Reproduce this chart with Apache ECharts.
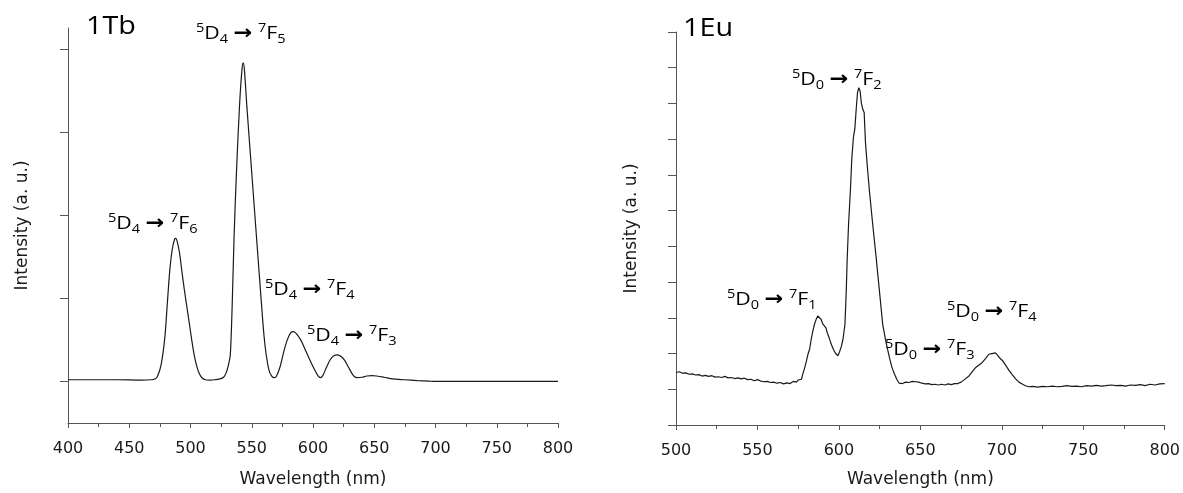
<!DOCTYPE html>
<html>
<head>
<meta charset="UTF-8">
<title>1Tb / 1Eu emission</title>
<script src="https://cdn.jsdelivr.net/npm/echarts@6/dist/echarts.min.js"></script>
<style>
  * { margin: 0; padding: 0; }
  html, body { background: #fff; }
  #app { width: 1183px; height: 493px; }
</style>
</head>
<body>
<div id="app"></div>
<script>
// 1Tb emission spectrum (wavelength nm / intensity, one y-tick = 1)
var tbWl = [400, 420, 440, 460, 468, 471, 473, 476, 479, 481, 483, 485, 487, 488, 489, 491, 493, 495, 497, 499,
  501, 503, 505, 507, 509, 512, 516, 520, 524, 527, 529, 531, 532.5, 534, 535.5, 537.5, 540, 542, 543, 544,
  546, 550, 554, 558, 560, 562, 564, 566, 568, 570, 573, 576, 579, 582, 584, 586, 590, 594, 598, 601,
  604, 606, 608, 611, 614, 617, 620, 623, 626, 629, 632, 634, 636, 640, 644, 648, 652, 658, 665, 675,
  685, 695, 700, 750, 800];
var tbInt = [0.02, 0.02, 0.02, 0.015, 0.02, 0.03, 0.06, 0.2, 0.52, 0.92, 1.32, 1.58, 1.71, 1.72, 1.69, 1.55, 1.32, 1.10, 0.90, 0.70,
  0.50, 0.32, 0.19, 0.10, 0.05, 0.02, 0.015, 0.02, 0.03, 0.05, 0.1, 0.2, 0.32, 0.9, 1.71, 2.51, 3.31, 3.75, 3.83, 3.75,
  3.31, 2.51, 1.71, 0.92, 0.55, 0.3, 0.14, 0.07, 0.045, 0.06, 0.17, 0.35, 0.5, 0.59, 0.60, 0.58, 0.5, 0.37, 0.24, 0.15,
  0.07, 0.045, 0.07, 0.17, 0.26, 0.31, 0.32, 0.30, 0.25, 0.17, 0.09, 0.055, 0.045, 0.05, 0.065, 0.07, 0.065, 0.05, 0.03, 0.02,
  0.01, 0.003, 0, 0, 0];

// 1Eu emission spectrum
var euWl = [500, 502, 504, 506, 508, 510, 512, 514, 516, 518, 520, 522, 524, 526, 528, 530, 532, 534, 536, 538,
  540, 542, 544, 546, 548, 550, 552, 554, 556, 558, 560, 562, 564, 566, 568, 570, 572, 574, 575, 576,
  577, 578, 579, 580, 581, 582, 583, 584, 585, 586, 587, 588, 589, 590, 591, 592, 593, 594, 595, 596,
  597, 598, 599.4, 600.4, 601.5, 602.5, 603.7, 604.5, 605.1, 605.9, 607, 607.9, 608.9, 609.8, 610.6, 611.4, 612.2, 613, 613.8, 614.7,
  615.5, 616.3, 617.5, 618.8, 620.8, 622.9, 624.9, 626.9, 629, 631, 632.5, 634.1, 635.5, 637, 639, 641, 643, 645, 647, 649,
  651, 653, 655, 657, 659, 661, 663, 665, 667, 669, 671, 673, 675, 677, 680, 682, 684, 686, 688, 690,
  692, 694, 696, 697.5, 699, 700.5, 702.5, 704.5, 706.5, 708.5, 710.5, 712.5, 714.5, 716.5, 719, 722, 725, 728, 731, 734,
  737, 740, 743, 746, 749, 752, 755, 758, 761, 764, 767, 770, 773, 776, 779, 782, 785, 788, 791, 794,
  797, 800];
var euInt = [1.47, 1.49, 1.45, 1.46, 1.42, 1.43, 1.40, 1.41, 1.37, 1.39, 1.36, 1.38, 1.34, 1.35, 1.33, 1.36, 1.32, 1.33, 1.30, 1.32,
  1.29, 1.31, 1.27, 1.28, 1.24, 1.27, 1.23, 1.21, 1.22, 1.19, 1.20, 1.17, 1.19, 1.15, 1.18, 1.16, 1.22, 1.20, 1.26, 1.24,
  1.28, 1.45, 1.60, 1.78, 1.98, 2.12, 2.40, 2.63, 2.82, 2.95, 3.05, 3.03, 2.96, 2.84, 2.80, 2.72, 2.56, 2.44, 2.30, 2.18,
  2.08, 2.00, 1.94, 2.05, 2.20, 2.40, 2.81, 3.74, 4.67, 5.59, 6.52, 7.44, 8.05, 8.30, 8.83, 9.30, 9.44, 9.35, 9.00, 8.83,
  8.75, 7.91, 7.20, 6.52, 5.59, 4.67, 3.74, 2.81, 2.30, 1.89, 1.62, 1.43, 1.28, 1.17, 1.16, 1.20, 1.19, 1.22, 1.21, 1.20,
  1.17, 1.15, 1.16, 1.13, 1.14, 1.12, 1.14, 1.12, 1.15, 1.13, 1.16, 1.16, 1.20, 1.27, 1.38, 1.50, 1.61, 1.68, 1.75, 1.86,
  1.98, 2.00, 2.02, 1.95, 1.86, 1.80, 1.66, 1.52, 1.40, 1.29, 1.20, 1.15, 1.10, 1.07, 1.08, 1.06, 1.08, 1.07, 1.09, 1.07,
  1.08, 1.10, 1.08, 1.09, 1.07, 1.10, 1.09, 1.11, 1.09, 1.10, 1.12, 1.10, 1.11, 1.09, 1.12, 1.11, 1.13, 1.10, 1.14, 1.12,
  1.15, 1.16];

var tbTicks = [0, 1, 2, 3, 4];

// transition labels: [upper level sub, lower level sub]
var tbLabels = [['4', '5'], ['4', '6'], ['4', '4'], ['4', '3']];
var euLabels = [['0', '2'], ['0', '1'], ['0', '3'], ['0', '4']];

function pairs(xs, ys) {
  return xs.map(function (x, i) { return [x, ys[i]]; });
}

var axisColor = '#555';
var labelFont = 'DejaVu Sans';

function xAxisOf(idx, min, max, gap) {
  return {
    type: 'value', gridIndex: idx, min: min, max: max, interval: 50,
    name: 'Wavelength (nm)', nameLocation: 'middle', nameGap: gap,
    nameTextStyle: { fontFamily: labelFont, fontSize: 17, color: '#1a1a1a' },
    axisLine: { onZero: false, lineStyle: { color: axisColor, width: 1 } },
    axisTick: { show: true, length: 5, lineStyle: { color: axisColor } },
    minorTick: { show: true, splitNumber: 2, length: 4, lineStyle: { color: axisColor } },
    axisLabel: { fontFamily: labelFont, fontSize: 16, color: '#1a1a1a', margin: 18 },
    splitLine: { show: false }
  };
}

var richStyles = {
  b: { fontFamily: 'Open Sans', fontSize: 19, lineHeight: 24, verticalAlign: 'middle', fill: '#000' },
  sup: { fontFamily: 'Open Sans', fontSize: 13, lineHeight: 14, verticalAlign: 'top', fill: '#000' },
  sub: { fontFamily: 'Open Sans', fontSize: 13, lineHeight: 16, verticalAlign: 'bottom', fill: '#000' },
  a: { fontFamily: 'DejaVu Sans', fontWeight: 'bold', fontSize: 20, lineHeight: 24, verticalAlign: 'middle', fill: '#000' }
};

function transText(lbl) {
  return '{sup|5}{b|D}{sub|' + lbl[0] + '}{b| }{a|→}{b| }{sup|7}{b|F}{sub|' + lbl[1] + '}';
}

function note(text, x, y) {
  return {
    type: 'text', x: x, y: y, scaleX: 1.12,
    style: {
      text: text, rich: richStyles, fill: '#000',
      font: '19px "Open Sans"',
      align: 'left', verticalAlign: 'middle',
      textAlign: 'left', textVerticalAlign: 'middle'
    }
  };
}

function heading(text, x, y) {
  return {
    type: 'text', x: x, y: y, scaleX: 1.15,
    style: {
      text: text, fill: '#000', font: '25px "Open Sans"',
      align: 'left', verticalAlign: 'middle',
      textAlign: 'left', textVerticalAlign: 'middle'
    }
  };
}

var chart = echarts.init(document.getElementById('app'), null, { renderer: 'canvas' });

var option = {
  animation: false,
  backgroundColor: '#fff',
  grid: [
    { left: 68, top: 28, width: 490, height: 395 },
    { left: 676, top: 32, width: 490, height: 396 }
  ],
  xAxis: [xAxisOf(0, 400, 800, 48), xAxisOf(1, 500, 800, 46)],
  yAxis: [
    {
      type: 'value', gridIndex: 0, min: -0.5, max: 4.25, interval: 0.25,
      name: 'Intensity (a. u.)', nameLocation: 'middle', nameGap: 37,
      nameTextStyle: { fontFamily: labelFont, fontSize: 17, color: '#1a1a1a' },
      axisLine: { show: true, onZero: false, lineStyle: { color: axisColor, width: 1 } },
      axisTick: { show: true, length: 8, customValues: tbTicks, lineStyle: { color: axisColor } },
      axisLabel: { show: false },
      splitLine: { show: false }
    },
    {
      type: 'value', gridIndex: 1, min: 0, max: 11, interval: 1,
      name: 'Intensity (a. u.)', nameLocation: 'middle', nameGap: 36,
      nameTextStyle: { fontFamily: labelFont, fontSize: 17, color: '#1a1a1a' },
      axisLine: { show: true, onZero: false, lineStyle: { color: axisColor, width: 1 } },
      axisTick: { show: true, length: 8, lineStyle: { color: axisColor } },
      axisLabel: { show: false },
      splitLine: { show: false }
    }
  ],
  series: [
    {
      type: 'line', xAxisIndex: 0, yAxisIndex: 0, data: pairs(tbWl, tbInt),
      showSymbol: false, smooth: 0.3, lineStyle: { color: '#1a1a1a', width: 1.2 }
    },
    {
      type: 'line', xAxisIndex: 1, yAxisIndex: 1, data: pairs(euWl, euInt),
      showSymbol: false, lineStyle: { color: '#1a1a1a', width: 1.2 }
    }
  ],
  graphic: [
    heading('1Tb', 86, 27),
    heading('1Eu', 683, 29),
    note(transText(tbLabels[0]), 196, 34),
    note(transText(tbLabels[1]), 108, 224),
    note(transText(tbLabels[2]), 265, 290),
    note(transText(tbLabels[3]), 307, 336),
    note(transText(euLabels[0]), 792, 80),
    note(transText(euLabels[1]), 727, 300),
    note(transText(euLabels[2]), 885, 350),
    note(transText(euLabels[3]), 947, 312)
  ]
};

chart.setOption(option);
</script>
</body>
</html>
